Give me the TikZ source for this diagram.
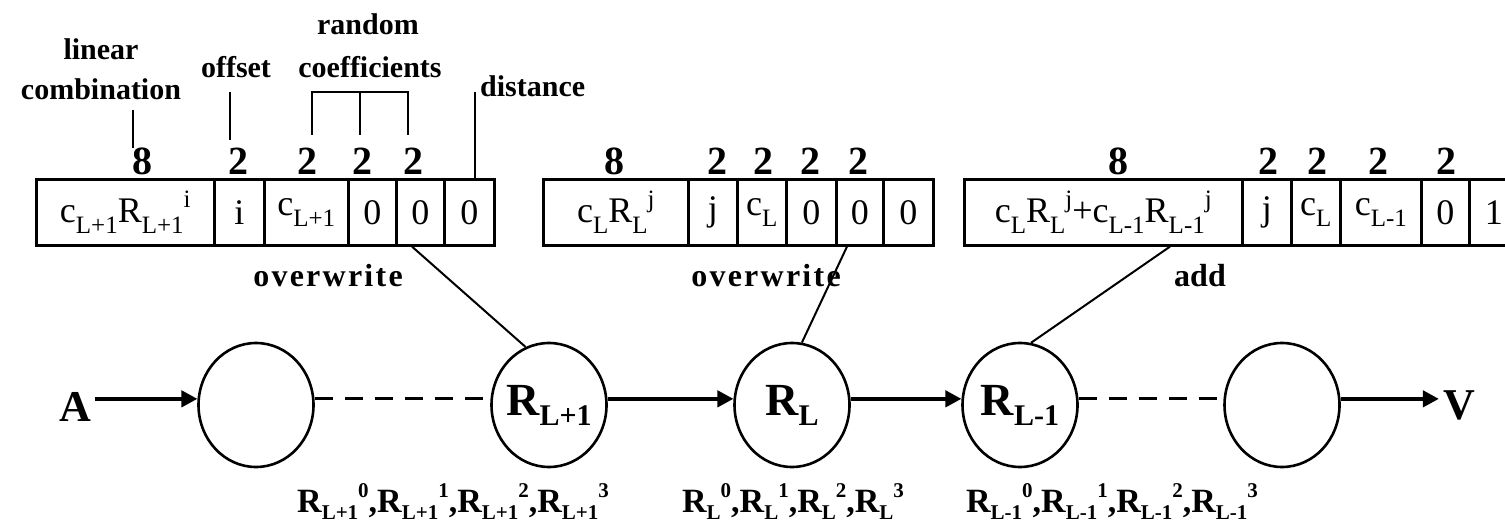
\documentclass[tikz,border=0pt]{standalone}
\usepackage{fontspec}
\setmainfont{Liberation Serif}
\newfontfamily\opfont[LetterSpace=7]{Liberation Serif}
\usetikzlibrary{arrows.meta,shapes.geometric,calc}

% lowered / raised indices in the current text font
\def\subsz{20bp}
\def\subdrop{0.22em}
\newcommand\lo[1]{\raisebox{-\subdrop}{\fontsize{\subsz}{\subsz}\selectfont #1}}
\newcommand\hi[1]{\raisebox{0.42em}{\fontsize{\subsz}{\subsz}\selectfont #1}}

\begin{document}
\begin{tikzpicture}[x=1bp,y=-1bp,
  cell/.style={draw,line width=2.6bp,minimum height=66bp,inner sep=0pt,anchor=north west,
    font=\fontsize{36bp}{38bp}\selectfont\def\subsz{25bp}\def\subdrop{0.3em}},
  lab/.style={inner sep=0pt,anchor=base,font=\bfseries\fontsize{30bp}{30bp}\selectfont},
  num/.style={inner sep=0pt,anchor=base,font=\bfseries\fontsize{40bp}{40bp}\selectfont},
  op/.style={inner sep=0pt,anchor=base,font=\opfont\bfseries\fontsize{32bp}{32bp}\selectfont},
  opplain/.style={inner sep=0pt,anchor=base,font=\bfseries\fontsize{32bp}{32bp}\selectfont},
  circ/.style={draw,ellipse,line width=2.6bp,minimum width=115bp,minimum height=124bp,inner sep=0pt},
  ctext/.style={inner sep=0pt,font=\bfseries\fontsize{46bp}{46bp}\selectfont\def\subsz{30bp}},
  endpt/.style={inner sep=4bp,font=\bfseries\fontsize{44bp}{44bp}\selectfont},
  bot/.style={inner sep=0pt,anchor=base,font=\bfseries\fontsize{34bp}{34bp}\selectfont\def\subsz{21bp}},
  lead/.style={line width=2.2bp},
  arr/.style={line width=4bp,-{Triangle[length=16bp,width=16bp]}},
  dsh/.style={line width=3bp,dash pattern=on 18bp off 12bp},
  conn/.style={line width=2bp}]
\useasboundingbox (0,0) rectangle (1505,527);
\clip (0,0) rectangle (1505,527);

% ---- field labels ----
\node[lab] (lin)  at (101,60)  {linear};
\node[lab] (comb) at (101,100) {combination};
\node[lab] (off)  at (236,78)  {offset};
\node[lab] (rnd)  at (368,35)  {random};
\node[lab] (coef) at (370,78)  {coefficients};
\node[lab,anchor=base west] (dist) at (480,97) {distance};

% ---- field widths ----
\node[num] (w1a) at (142,175) {8};
\node[num] (w1b) at (238,175) {2};
\node[num] (w1c) at (307,175) {2};
\node[num] (w1d) at (362,175) {2};
\node[num] (w1e) at (413,175) {2};

\node[num] (w2a) at (614,175) {8};
\node[num] (w2b) at (717,175) {2};
\node[num] (w2c) at (763,175) {2};
\node[num] (w2d) at (810,175) {2};
\node[num] (w2e) at (858,175) {2};

\node[num] (w3a) at (1118,175) {8};
\node[num] (w3b) at (1268,175) {2};
\node[num] (w3c) at (1317,175) {2};
\node[num] (w3d) at (1378,175) {2};
\node[num] (w3e) at (1446,175) {2};

% ---- leader lines ----
\coordinate (lc) at (133,110);
\draw[lead] (lc) -- (lc |- w1a.north);
\coordinate (ol) at (230,92);
\draw[lead] (ol) -- ++(0,48);
\coordinate (rl) at (312,92);
\coordinate (rm) at (360,92);
\coordinate (rr) at (408,92);
\draw[lead] (rl) ++(0,43) -- (rl) -- (rr) -- ++(0,43);
\draw[lead] (rm) -- ++(0,43);

% ---- packet 1 ----
\node[cell,minimum width=178bp] (b1a) at (35,178)  {c\lo{L+1}R\lo{L+1}\hi{i}};
\node[cell,minimum width=50bp]  (b1b) at (213,178) {i};
\node[cell,minimum width=84bp]  (b1c) at (263,178) {c\lo{L+1}};
\node[cell,minimum width=48bp]  (b1d) at (347,178) {0};
\node[cell,minimum width=48bp]  (b1e) at (395,178) {0};
\node[cell,minimum width=50bp]  (b1f) at (443,178) {0};
\coordinate (dl) at (475,92);
\draw[lead] (dl) -- (dl |- b1f.north);

% ---- packet 2 ----
\node[cell,minimum width=145bp] (b2a) at (542,178) {c\lo{L}R\lo{L}\hi{j}};
\node[cell,minimum width=49bp]  (b2b) at (687,178) {j};
\node[cell,minimum width=49bp]  (b2c) at (736,178) {c\lo{L}};
\node[cell,minimum width=50bp]  (b2d) at (785,178) {0};
\node[cell,minimum width=47bp]  (b2e) at (835,178) {0};
\node[cell,minimum width=50bp]  (b2f) at (882,178) {0};

% ---- packet 3 ----
\node[cell,minimum width=278bp] (b3a) at (963,178)  {c\lo{L}R\lo{L}\hi{j}+c\lo{L-1}R\lo{L-1}\hi{j}};
\node[cell,minimum width=49bp]  (b3b) at (1241,178) {j};
\node[cell,minimum width=49bp]  (b3c) at (1290,178) {c\lo{L}};
\node[cell,minimum width=81bp]  (b3d) at (1339,178) {c\lo{L-1}};
\node[cell,minimum width=48bp]  (b3e) at (1420,178) {0};
\node[cell,minimum width=49bp]  (b3f) at (1468,178) {1};

% ---- operations ----
\node[op] (op1) at (328,287)  {overwrite};
\node[op] (op2) at (766,287)  {overwrite};
\node[opplain] (op3) at (1200,287) {add};

% ---- relay chain ----
\node[circ] (n1) at (256,405)  {};
\node[circ] (n2) at (549,405)  {};
\node[circ] (n3) at (792,405)  {};
\node[circ] (n4) at (1020,405) {};
\node[circ] (n5) at (1282,405) {};
\node[ctext] (t2) at (n2) {R\lo{L+1}};
\node[ctext] (t3) at (n3) {R\lo{L}};
\node[ctext] (t4) at (n4) {R\lo{L-1}};

\node[endpt] (A) at (75,407)   {A};
\node[endpt] (V) at (1459,405) {V};

\draw[arr] (A.east |- n1.174) -- (n1.174);
\draw[dsh] (n1.6) -- (n2.174);
\draw[arr] (n2.6) -- (n3.174);
\draw[arr] (n3.6) -- (n4.174);
\draw[dsh] (n4.6) -- (n5.174);
\draw[arr] (n5.6) -- (V.west |- n5.6);

% ---- packets to relays ----
\draw[conn] ($(b1e.south west)+(17,0)$) -- (n2.112);
\draw[conn] ($(b2e.south west)+(12,0)$) -- (n3.81);
\draw[conn] ($(b3a.south west)+(207,0)$) -- (n4.80);

% ---- stored coefficients ----
\node[bot] (s2) at (453,512)  {R\lo{L+1}\hi{0},R\lo{L+1}\hi{1},R\lo{L+1}\hi{2},R\lo{L+1}\hi{3}};
\node[bot] (s3) at (793,512)  {R\lo{L}\hi{0},R\lo{L}\hi{1},R\lo{L}\hi{2},R\lo{L}\hi{3}};
\node[bot] (s4) at (1112,512) {R\lo{L-1}\hi{0},R\lo{L-1}\hi{1},R\lo{L-1}\hi{2},R\lo{L-1}\hi{3}};
\end{tikzpicture}
\end{document}
